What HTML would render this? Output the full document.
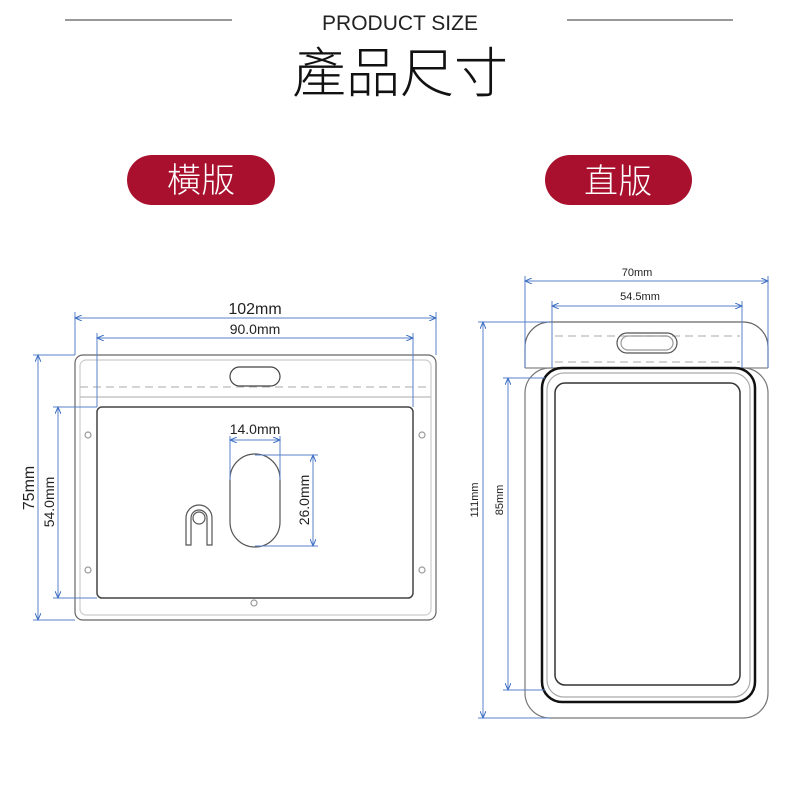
<!DOCTYPE html>
<html><head><meta charset="utf-8"><style>
body{margin:0;background:#fff;width:800px;height:800px;overflow:hidden}
svg{display:block}
</style></head><body>
<svg width="800" height="800" viewBox="0 0 800 800" xmlns="http://www.w3.org/2000/svg">
<defs>
<marker id="a" markerWidth="8" markerHeight="6" refX="7" refY="3" orient="auto-start-reverse" markerUnits="userSpaceOnUse"><path d="M0,0 L7,3 L0,6" fill="none" stroke="#3a6fc4" stroke-width="1"/></marker>
</defs>
<line x1="65" y1="20" x2="232" y2="20" stroke="#333" stroke-width="1"/>
<line x1="567" y1="20" x2="733" y2="20" stroke="#333" stroke-width="1"/>
<text x="400" y="30" text-anchor="middle" font-family="Liberation Sans, sans-serif" font-size="21" fill="#222">PRODUCT SIZE</text>
<text x="400" y="92" text-anchor="middle" font-family="'Noto Sans CJK TC', sans-serif" font-weight="300" font-size="54" fill="#111">產品尺寸</text>
<rect x="127" y="155" width="148" height="50" rx="25" fill="#a8102e"/>
<text x="201" y="192" text-anchor="middle" font-family="'Noto Sans CJK TC', sans-serif" font-weight="300" font-size="34" fill="#fff">橫版</text>
<rect x="545" y="155" width="147" height="50" rx="25" fill="#a8102e"/>
<text x="618" y="193" text-anchor="middle" font-family="'Noto Sans CJK TC', sans-serif" font-weight="300" font-size="34" fill="#fff">直版</text>

<g fill="none" stroke="#666" stroke-width="1.2">
<rect x="75" y="355" width="361" height="265" rx="8"/>
<rect x="80" y="360" width="351" height="255" rx="6" stroke="#ccc"/>
<line x1="80" y1="387" x2="431" y2="387" stroke="#bbb" stroke-dasharray="8,5"/>
<line x1="80" y1="397" x2="431" y2="397" stroke="#bbb"/>
<rect x="97" y="407" width="316" height="191" rx="5" stroke="#444" stroke-width="1.5"/>
<rect x="230" y="367" width="50" height="19" rx="9.5" stroke="#444"/>
<rect x="230" y="454" width="50" height="93" rx="25" stroke="#555"/>
<path d="M186,545 V518 a13,13 0 0 1 26,0 V545 h-5 V518 a8,8 0 0 0 -16,0 V545 z" stroke="#555"/>
<circle cx="199" cy="518" r="6" stroke="#555"/>
<circle cx="88" cy="435" r="3" stroke="#999"/><circle cx="88" cy="570" r="3" stroke="#999"/>
<circle cx="422" cy="435" r="3" stroke="#999"/><circle cx="422" cy="570" r="3" stroke="#999"/>
<circle cx="254" cy="603" r="3" stroke="#999"/>
</g>
<g stroke="#5a7fc9" stroke-width="1" fill="none">
<line x1="75" y1="318" x2="436" y2="318" marker-start="url(#a)" marker-end="url(#a)"/>
<line x1="75" y1="312" x2="75" y2="355"/><line x1="436" y1="312" x2="436" y2="355"/>
<line x1="97" y1="338" x2="413" y2="338" marker-start="url(#a)" marker-end="url(#a)"/>
<line x1="97" y1="333" x2="97" y2="407"/><line x1="413" y1="333" x2="413" y2="407"/>
<line x1="38" y1="355" x2="38" y2="620" marker-start="url(#a)" marker-end="url(#a)"/>
<line x1="33" y1="355" x2="75" y2="355"/><line x1="33" y1="620" x2="75" y2="620"/>
<line x1="58" y1="407" x2="58" y2="598" marker-start="url(#a)" marker-end="url(#a)"/>
<line x1="53" y1="407" x2="97" y2="407"/><line x1="53" y1="598" x2="97" y2="598"/>
<line x1="230" y1="440" x2="280" y2="440" marker-start="url(#a)" marker-end="url(#a)"/>
<line x1="230" y1="436" x2="230" y2="480"/><line x1="280" y1="436" x2="280" y2="480"/>
<line x1="313" y1="455" x2="313" y2="546" marker-start="url(#a)" marker-end="url(#a)"/>
<line x1="255" y1="455" x2="318" y2="455"/><line x1="255" y1="546" x2="318" y2="546"/>
</g>
<g font-family="Liberation Sans, sans-serif" fill="#222">
<text x="255" y="314" text-anchor="middle" font-size="16">102mm</text>
<text x="255" y="334" text-anchor="middle" font-size="14">90.0mm</text>
<text x="255" y="434" text-anchor="middle" font-size="14">14.0mm</text>
<text transform="translate(34,488) rotate(-90)" text-anchor="middle" font-size="16">75mm</text>
<text transform="translate(54,502) rotate(-90)" text-anchor="middle" font-size="14">54.0mm</text>
<text transform="translate(309,500) rotate(-90)" text-anchor="middle" font-size="14">26.0mm</text>
</g>

<g fill="none" stroke="#666" stroke-width="1.2">
<path d="M525,368 V347 a25,25 0 0 1 25,-25 H743 a25,25 0 0 1 25,25 V368"/>
<rect x="525" y="368" width="243" height="350" rx="25" stroke="#777"/>
<line x1="525" y1="368" x2="768" y2="368" stroke="#888"/>
<line x1="555" y1="336" x2="740" y2="336" stroke="#bbb" stroke-dasharray="8,5"/>
<line x1="555" y1="362" x2="740" y2="362" stroke="#bbb" stroke-dasharray="8,5"/>
<rect x="617" y="333" width="60" height="20" rx="10" stroke="#555"/>
<rect x="621" y="336" width="52" height="14" rx="7" stroke="#999"/>
<rect x="542" y="368" width="213" height="334" rx="20" stroke="#111" stroke-width="2.5"/>
<rect x="547" y="373" width="203" height="324" rx="17" stroke="#aaa"/>
<rect x="555" y="383" width="185" height="302" rx="10" stroke="#333" stroke-width="1.5"/>
</g>
<g stroke="#5a7fc9" stroke-width="1" fill="none">
<line x1="525" y1="281" x2="768" y2="281" marker-start="url(#a)" marker-end="url(#a)"/>
<line x1="525" y1="276" x2="525" y2="368"/><line x1="768" y1="276" x2="768" y2="368"/>
<line x1="552" y1="306" x2="742" y2="306" marker-start="url(#a)" marker-end="url(#a)"/>
<line x1="552" y1="301" x2="552" y2="368"/><line x1="742" y1="301" x2="742" y2="368"/>
<line x1="483" y1="322" x2="483" y2="718" marker-start="url(#a)" marker-end="url(#a)"/>
<line x1="478" y1="322" x2="550" y2="322"/><line x1="478" y1="718" x2="550" y2="718"/>
<line x1="508" y1="378" x2="508" y2="690" marker-start="url(#a)" marker-end="url(#a)"/>
<line x1="503" y1="378" x2="545" y2="378"/><line x1="503" y1="690" x2="545" y2="690"/>
</g>
<g font-family="Liberation Sans, sans-serif" fill="#222" font-size="11">
<text x="637" y="276" text-anchor="middle">70mm</text>
<text x="640" y="300" text-anchor="middle">54.5mm</text>
<text transform="translate(478,500) rotate(-90)" text-anchor="middle">111mm</text>
<text transform="translate(503,500) rotate(-90)" text-anchor="middle">85mm</text>
</g>
</svg>
</body></html>
